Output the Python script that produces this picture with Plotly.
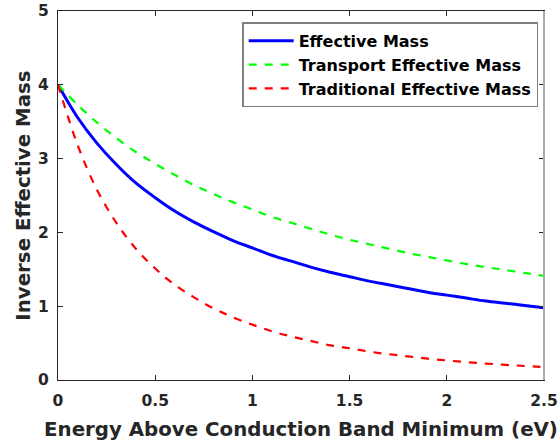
import plotly.graph_objects as go

energy = [0.0, 0.1, 0.2, 0.3, 0.4, 0.5, 0.6, 0.7, 0.8, 0.9, 1.0, 1.1, 1.2, 1.3,
          1.4, 1.5, 1.6, 1.7, 1.8, 1.9, 2.0, 2.1, 2.2, 2.3, 2.4, 2.5]

effective_mass = [4.00, 3.56, 3.21, 2.92, 2.67, 2.47, 2.29, 2.14, 2.01, 1.89, 1.79,
                  1.69, 1.61, 1.53, 1.46, 1.40, 1.34, 1.29, 1.24, 1.19, 1.15, 1.11, 1.07, 1.04,
                  1.01, 0.98]

transport_mass = [4.00, 3.73, 3.49, 3.28, 3.09, 2.93, 2.78, 2.64, 2.52, 2.41, 2.31,
                  2.21, 2.13, 2.05, 1.97, 1.90, 1.84, 1.78, 1.72, 1.67, 1.62, 1.57, 1.53, 1.49,
                  1.45, 1.41]

traditional_mass = [4.00, 3.19, 2.58, 2.13, 1.78, 1.51, 1.29, 1.12, 0.97, 0.85,
                    0.75, 0.66, 0.59, 0.53, 0.47, 0.43, 0.385, 0.35, 0.32, 0.29, 0.265, 0.243,
                    0.223, 0.206, 0.19, 0.176]

x_ticks = [0, 0.5, 1, 1.5, 2, 2.5]
x_tick_labels = ["0", "0.5", "1", "1.5", "2", "2.5"]
y_ticks = [0, 1, 2, 3, 4, 5]
y_tick_labels = ["0", "1", "2", "3", "4", "5"]

FONT = "DejaVu Sans, Arial, sans-serif"
AX_COLOR = "#262626"

fig = go.Figure()
fig.add_trace(go.Scatter(x=energy, y=effective_mass, mode="lines", name="Effective Mass",
                         line=dict(color="#0000FF", width=3, shape="spline", smoothing=1)))
fig.add_trace(go.Scatter(x=energy, y=transport_mass, mode="lines", name="Transport Effective Mass",
                         line=dict(color="#00FF00", width=2.2, dash="8px,8px", shape="spline", smoothing=1)))
fig.add_trace(go.Scatter(x=energy, y=traditional_mass, mode="lines", name="Traditional Effective Mass",
                         line=dict(color="#FF0000", width=2.2, dash="8px,8px", shape="spline", smoothing=1)))

axis_common = dict(showline=True, linecolor=AX_COLOR, linewidth=1.2, mirror="ticks",
                   ticks="inside", ticklen=5, tickwidth=1, tickcolor=AX_COLOR,
                   showgrid=False, zeroline=False, automargin=False,
                   tickfont=dict(family=FONT, size=15.5, color=AX_COLOR, weight="bold"))

fig.update_xaxes(range=[0, 2.5], tickvals=x_ticks, ticktext=x_tick_labels,
                 ticklabelstandoff=6,
                 title=dict(text="Energy Above Conduction Band Minimum (eV)", standoff=13,
                            font=dict(family=FONT, size=19.8, color=AX_COLOR, weight="bold")),
                 **axis_common)
fig.update_yaxes(range=[0, 5], tickvals=y_ticks, ticktext=y_tick_labels,
                 ticklabelstandoff=5,
                 title=dict(text="Inverse Effective Mass", standoff=2,
                            font=dict(family=FONT, size=19.8, color=AX_COLOR, weight="bold")),
                 **axis_common)

fig.add_shape(type="line", xref="paper", yref="paper", x0=1, x1=1, y0=0, y1=1,
              line=dict(color="#AAAAAA", width=2), layer="above")

fig.update_layout(
    width=558, height=448,
    margin=dict(l=58, r=14, t=11, b=68, autoexpand=False),
    paper_bgcolor="white", plot_bgcolor="white",
    showlegend=True,
    legend=dict(x=0.379, y=0.969, xanchor="left", yanchor="top",
                bgcolor="white", bordercolor="#7F7F7F", borderwidth=1.5,
                font=dict(family=FONT, size=16, color="black", weight="bold"),
                tracegroupgap=0, itemwidth=45),
)

fig.write_html("out.html")
